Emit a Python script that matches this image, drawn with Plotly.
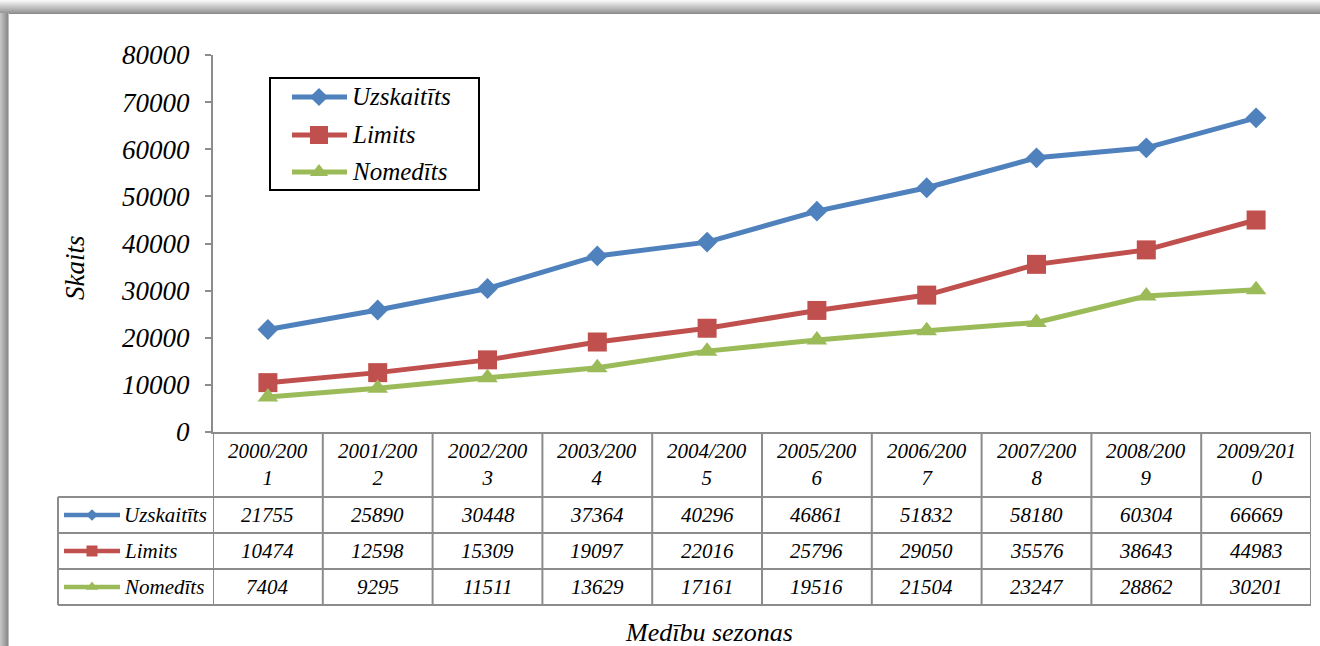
import plotly.graph_objects as go

W, H = 1320, 646

seasons = ["2000/2001", "2001/2002", "2002/2003", "2003/2004", "2004/2005",
           "2005/2006", "2006/2007", "2007/2008", "2008/2009", "2009/2010"]
header_labels = ["2000/200<br>1", "2001/200<br>2", "2002/200<br>3", "2003/200<br>4", "2004/200<br>5",
                 "2005/200<br>6", "2006/200<br>7", "2007/200<br>8", "2008/200<br>9", "2009/201<br>0"]
series_names = ["Uzskaitīts", "Limits", "Nomedīts"]
uzskaitits = [21755, 25890, 30448, 37364, 40296, 46861, 51832, 58180, 60304, 66669]
limits = [10474, 12598, 15309, 19097, 22016, 25796, 29050, 35576, 38643, 44983]
nomedits = [7404, 9295, 11511, 13629, 17161, 19516, 21504, 23247, 28862, 30201]
y_ticks = [0, 10000, 20000, 30000, 40000, 50000, 60000, 70000, 80000]

colors = ["#4F81BD", "#C0504D", "#9BBB59"]
symbols = ["diamond", "square", "triangle-up"]
msizes = [16, 19, 18]
legend_sizes = [14, 18, 16]
key_sizes = [9, 11, 11]
all_series = [uzskaitits, limits, nomedits]

FONT = "Liberation Serif"
GRID = "#8c8c8c"

# pixel layout
PL, PR, PT, PB = 213, 1311, 55, 432
ROWS = [432, 497, 533, 569, 605]
TL = 58
LEG_BOX = (270, 479, 78, 190)
LEG_Y = [97, 135, 172]

def px(x):
    return x / W

def py(y):
    return 1 - y / H

def ifont(size):
    return dict(family=FONT, size=size, color="black", style="italic")

fig = go.Figure()
xs = list(range(len(seasons)))
for name, vals, c, s, ms in zip(series_names, all_series, colors, symbols, msizes):
    fig.add_trace(go.Scatter(
        x=xs, y=vals, name=name, mode="lines+markers",
        line=dict(color=c, width=5),
        marker=dict(symbol=s, size=ms, color=c),
        xaxis="x", yaxis="y", showlegend=False,
    ))

# legend keys: floating legend box and data-table legend column (auxiliary pixel axes)
for i, (name, c, s) in enumerate(zip(series_names, colors, symbols)):
    yl = LEG_Y[i]
    fig.add_trace(go.Scatter(
        x=[292, 347], y=[yl, yl], mode="lines", line=dict(color=c, width=5),
        xaxis="x2", yaxis="y2", showlegend=False, hoverinfo="skip"))
    fig.add_trace(go.Scatter(
        x=[319], y=[yl], mode="markers", marker=dict(symbol=s, size=legend_sizes[i], color=c),
        xaxis="x2", yaxis="y2", showlegend=False, hoverinfo="skip"))
    yc = (ROWS[i + 1] + ROWS[i + 2]) / 2
    fig.add_trace(go.Scatter(
        x=[64, 120], y=[yc, yc], mode="lines", line=dict(color=c, width=4.5),
        xaxis="x2", yaxis="y2", showlegend=False, hoverinfo="skip"))
    fig.add_trace(go.Scatter(
        x=[92], y=[yc], mode="markers", marker=dict(symbol=s, size=key_sizes[i], color=c),
        xaxis="x2", yaxis="y2", showlegend=False, hoverinfo="skip"))

shapes = []
# frame (grey border)
top_cols = ["#f7f7f7", "#f0f0f0", "#e8e8e8", "#e0e0e0", "#d8d8d8", "#d0d0d0", "#c8c8c8",
            "#c0c0c0", "#b8b8b8", "#b0b0b0", "#a8a8a8", "#a0a0a0", "#989898", "#8c8c8c"]
for i, col in enumerate(top_cols):
    shapes.append(dict(type="rect", xref="paper", yref="paper", x0=0, x1=1,
                       y0=py(i + 1), y1=py(i), fillcolor=col, line=dict(width=0), layer="below"))
left_cols = ["#c4c4c4", "#bcbcbc", "#b4b4b4", "#acacac", "#a4a4a4", "#9c9c9c", "#949494", "#8c8c8c", "#bdbdbd"]
for i, col in enumerate(left_cols):
    shapes.append(dict(type="rect", xref="paper", yref="paper", x0=px(i), x1=px(i + 1),
                       y0=0, y1=py(len(top_cols) - 1), fillcolor=col, line=dict(width=0), layer="below"))

# legend box
shapes.append(dict(type="rect", xref="paper", yref="paper",
                   x0=px(LEG_BOX[0]), x1=px(LEG_BOX[1]), y0=py(LEG_BOX[3]), y1=py(LEG_BOX[2]),
                   line=dict(color="black", width=2), fillcolor="rgba(0,0,0,0)", layer="below"))

# table grid
for k in range(len(seasons) + 1):
    shapes.append(dict(type="line", xref="x", yref="paper", x0=k - 0.5, x1=k - 0.5,
                       y0=py(ROWS[0]), y1=py(ROWS[-1]), line=dict(color=GRID, width=2)))
for r in ROWS[1:]:
    shapes.append(dict(type="line", xref="paper", yref="paper", x0=px(TL), x1=px(PR),
                       y0=py(r), y1=py(r), line=dict(color=GRID, width=2)))
shapes.append(dict(type="line", xref="paper", yref="paper", x0=px(TL), x1=px(TL),
                   y0=py(ROWS[1]), y1=py(ROWS[-1]), line=dict(color=GRID, width=2)))

annotations = []
# legend texts
for i, name in enumerate(series_names):
    annotations.append(dict(x=px(350), y=py(LEG_Y[i]), xref="paper", yref="paper",
                            text=name, showarrow=False, xanchor="left", yanchor="middle",
                            font=ifont(25)))
# header labels
for i, lab in enumerate(header_labels):
    annotations.append(dict(x=i, y=py((ROWS[0] + ROWS[1]) / 2), xref="x", yref="paper",
                            text=lab, showarrow=False, xanchor="center", yanchor="middle",
                            font=ifont(21)))
# values
for r, vals in enumerate(all_series):
    yc = (ROWS[r + 1] + ROWS[r + 2]) / 2
    for i, v in enumerate(vals):
        annotations.append(dict(x=i, y=py(yc), xref="x", yref="paper", text=str(v),
                                showarrow=False, xanchor="center", yanchor="middle",
                                font=ifont(21)))
    annotations.append(dict(x=px(122), y=py(yc), xref="paper", yref="paper",
                            text=series_names[r], showarrow=False, xanchor="left", yanchor="middle",
                            font=ifont(21)))
# axis titles
annotations.append(dict(x=px(75), y=py(268), xref="paper", yref="paper", text="Skaits",
                        textangle=-90, showarrow=False, xanchor="center", yanchor="middle",
                        font=ifont(27)))
annotations.append(dict(x=px(709), y=py(632), xref="paper", yref="paper", text="Medību sezonas",
                        showarrow=False, xanchor="center", yanchor="middle",
                        font=ifont(26)))

fig.update_layout(
    width=W, height=H,
    margin=dict(l=0, r=0, t=0, b=0, autoexpand=False),
    paper_bgcolor="white", plot_bgcolor="rgba(0,0,0,0)",
    showlegend=False,
    xaxis=dict(domain=[px(PL), px(PR)], range=[-0.5, 9.5], showticklabels=False,
               showgrid=False, zeroline=False, showline=True, linecolor=GRID, linewidth=2,
               ticks="", automargin=False),
    yaxis=dict(domain=[py(PB), py(PT)], range=[0, 80000], tickvals=y_ticks,
               ticktext=[str(v) for v in y_ticks],
               showgrid=False, zeroline=False, showline=True, linecolor=GRID, linewidth=2,
               ticks="outside", ticklen=6, tickwidth=2, tickcolor=GRID,
               ticklabelstandoff=10, automargin=False,
               tickfont=ifont(27)),
    xaxis2=dict(domain=[0, 1], range=[0, W], visible=False, anchor="y2", automargin=False),
    yaxis2=dict(domain=[0, 1], range=[H, 0], visible=False, anchor="x2", automargin=False),
    shapes=shapes,
    annotations=annotations,
)

fig.write_html("out.html", config={"displayModeBar": False},
               post_script="document.body.style.margin='0';document.body.style.overflow='hidden';")
